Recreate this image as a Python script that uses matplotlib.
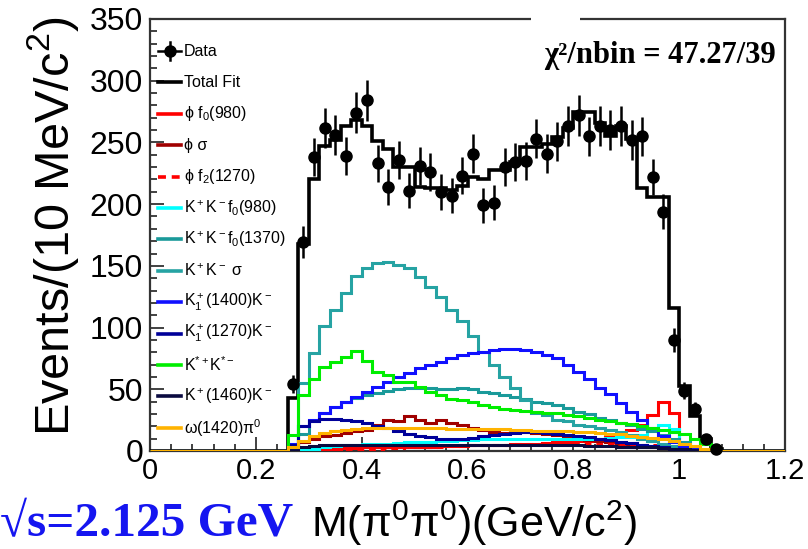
import numpy as np
import matplotlib
matplotlib.use("Agg")
import matplotlib.pyplot as plt
from matplotlib.lines import Line2D
from matplotlib.patches import Rectangle

plt.rcParams['font.family'] = ['Liberation Sans', 'DejaVu Sans']
plt.rcParams['mathtext.fontset'] = 'custom'
plt.rcParams['mathtext.rm'] = 'Liberation Sans'
plt.rcParams['mathtext.it'] = 'Liberation Sans:italic'
plt.rcParams['mathtext.bf'] = 'Liberation Sans:bold'

# 60 bins of 20 MeV over [0, 1.2] GeV; filled bins start at 0.26 GeV
bin_edges = np.linspace(0.0, 1.2, 61)
first_bin = 13

# Data counts, bins centred 0.27 ... 1.07
data_counts = [54, 169, 238, 262, 256, 239, 274, 284, 233, 214, 236, 211, 231, 226, 210,
               207, 223, 241, 199, 201, 230, 234, 235, 253, 241, 251, 263, 272, 255, 263,
               260, 263, 252, 255, 222, 194, 90, 49, 34, 10, 2]

total_fit = [43, 168, 220, 247, 252, 263, 268, 263, 251, 245, 230, 230, 214, 213, 213,
             211.5, 215, 222, 220, 228, 228, 234, 246, 246, 249, 254, 262, 275, 275, 266,
             255, 263, 253, 213, 206, 206, 116, 53, 28, 10, 1.5]

phi_f0_980 = [0, 1, 1.5, 2, 2, 2.5, 2.5, 3, 3, 3, 3, 3.5, 3.5, 3.5, 4, 4, 4, 4.5, 4.5, 5,
              5, 5.5, 5.5, 6, 6.5, 7, 7, 8, 8.5, 9.5, 11, 14, 17, 21, 29, 40, 31, 3, 1, 0, 0]

phi_sigma = [2, 7, 10, 12, 13, 14.5, 16, 17, 21, 25, 24, 28, 25, 22.5, 25, 22.5, 21, 19, 17,
             15.5, 14.5, 15, 15, 14.5, 14, 13, 11.5, 10.5, 9, 8, 7, 6, 5, 4, 3, 2.5, 2, 1.5,
             1, 0.5, 0]

phi_f2_1270 = [0, 0.5, 1, 1, 1.5, 1.5, 2, 2, 2, 2.5, 2.5, 3, 3, 3.5, 3.5, 4, 4, 4.5, 4.5, 5,
               5, 5.5, 5.5, 5.5, 6, 6, 6, 6, 6, 6, 5.5, 5.5, 5, 5, 4.5, 4, 3, 2, 1, 0.5, 0]

kk_f0_980 = [0, 1, 2, 3, 4, 4.5, 5, 5.5, 6, 6, 6.5, 7, 7, 7.5, 8, 8.5, 9, 9, 9.5, 9.5, 10,
             10, 10, 10, 10, 10, 10, 10, 10, 10, 10.5, 11, 11.5, 13, 17, 21, 18, 4, 1, 0, 0]

kk_f0_1370 = [0, 14, 24, 31, 36, 40, 43, 45, 47, 49, 50, 51, 51, 51, 50, 50, 51, 50, 48, 47,
              45, 44, 42, 40, 39, 37, 35, 32, 30, 27, 25, 23, 21, 18, 16, 13, 10, 7, 3.5, 1, 0]

kk_sigma = [4, 55, 79, 101, 114, 128, 142, 148, 152, 153, 151, 148, 141, 133, 125, 114, 105,
            93, 80, 70, 60, 51, 41, 31, 29, 25, 24, 21, 20, 19, 17, 15, 13, 10, 8, 6, 4, 2,
            1, 0.5, 0]

k1_1400_k = [6, 20, 25, 30.5, 36, 40, 44, 48, 52, 56, 60, 63.5, 67, 70, 72.5, 75, 78, 79,
             80.5, 81.5, 82.5, 82.5, 82, 80.5, 78, 75, 70, 64, 58, 51, 46, 39, 32, 25, 18.5,
             12.5, 7.5, 4, 2, 0.8, 0]

k1_1270_k = [5, 20, 24, 26, 26, 25, 24, 22.5, 20.5, 18.5, 16, 14, 12.5, 11, 10, 9.5, 9.5,
             10.5, 12, 13, 14, 14.5, 15, 15, 14.5, 14, 13, 12, 11, 10, 9, 7.5, 6.5, 5, 4, 3,
             2, 1.2, 0.5, 0.2, 0]

kstar_kstar = [13, 45, 58, 68, 72, 76, 81, 73, 64, 61.5, 56, 56, 52, 48, 45.5, 42.5, 41, 40,
               37.5, 36, 34, 33, 32.5, 31.5, 31, 30.5, 29, 28, 27, 25.5, 24.5, 23, 22, 20.5,
               19, 17, 15.5, 14, 10, 6, 0]

k_1460_k = [1, 3, 4, 4.5, 5, 5, 5, 5, 5, 5, 5, 5, 5, 5, 5, 5, 5, 5, 5, 5, 5, 5, 5, 5, 5,
            4.5, 4.5, 4.5, 4, 4, 4, 3.5, 3.5, 3, 3, 2.5, 2, 1.5, 1, 0.5, 0]

omega_1420_pi0 = [3, 8, 12, 14.5, 16, 17, 18, 18.5, 19, 19, 19, 19, 18.5, 18.5, 18.5, 18, 18,
                  18, 18, 17.5, 17.5, 17, 17, 16.5, 16.5, 16, 16, 15.5, 15, 14.5, 14, 13.5,
                  12.5, 11.5, 10.5, 9.5, 8, 6, 4, 2, 0]

x_ticks = [0, 0.2, 0.4, 0.6, 0.8, 1.0, 1.2]
x_tick_labels = ["0", "0.2", "0.4", "0.6", "0.8", "1", "1.2"]
y_ticks = [0, 50, 100, 150, 200, 250, 300, 350]
y_tick_labels = ["0", "50", "100", "150", "200", "250", "300", "350"]

components = [
    (phi_f0_980, "#ff0000", "-", r"ϕ f$_0$(980)"),
    (phi_sigma, "#a00000", "-", r"ϕ σ"),
    (phi_f2_1270, "#ff0000", (0, (2.2, 1.6)), r"ϕ f$_2$(1270)"),
    (kk_f0_980, "#00ffff", "-", r"K$^+$K$^-$f$_0$(980)"),
    (kk_f0_1370, "#1a9a9a", "-", r"K$^+$K$^-$f$_0$(1370)"),
    (kk_sigma, "#26a3a3", "-", r"K$^+$K$^-$ σ"),
    (k1_1400_k, "#1010ff", "-", r"K$_1^+$(1400)K$^-$"),
    (k1_1270_k, "#000099", "-", r"K$_1^+$(1270)K$^-$"),
    (kstar_kstar, "#00ee00", "-", r"K$^{*+}$K$^{*-}$"),
    (k_1460_k, "#0a0a40", "-", r"K$^+$(1460)K$^-$"),
    (omega_1420_pi0, "#ffb300", "-", r"ω(1420)π$^0$"),
]


def full_hist(values):
    arr = np.zeros(len(bin_edges) - 1)
    arr[first_bin:first_bin + len(values)] = values
    return arr


W, H = 808, 549
fig = plt.figure(figsize=(W / 100, H / 100), dpi=100)
AX_L, AX_R, AX_T, AX_B = 150, 785, 19, 451
ax = fig.add_axes([AX_L / W, 1 - AX_B / H, (AX_R - AX_L) / W, (AX_B - AX_T) / H])


def px_to_ax(px, py):
    return (px - AX_L) / (AX_R - AX_L), (AX_B - py) / (AX_B - AX_T)


ax.stairs(full_hist(total_fit), bin_edges, color="black", lw=2.6, zorder=3)
for vals, col, ls, _ in components:
    ax.stairs(full_hist(vals), bin_edges, color=col, lw=2.2, linestyle=ls, zorder=3)

centers = 0.5 * (bin_edges[:-1] + bin_edges[1:])
x_data = centers[first_bin:first_bin + len(data_counts)]
y_data = np.array(data_counts, dtype=float)
ax.errorbar(x_data, y_data, yerr=np.sqrt(y_data), fmt="o", color="black", ms=8,
            elinewidth=1.8, capsize=0, zorder=5, clip_on=False)

ax.set_xlim(0, 1.2)
ax.set_ylim(0, 350)
ax.set_xticks(x_ticks)
ax.set_xticklabels(x_tick_labels)
ax.set_yticks(y_ticks)
ax.set_yticklabels(y_tick_labels)
ax.set_xticks(np.arange(0, 1.2001, 0.04), minor=True)
ax.set_yticks(np.arange(0, 350.1, 10), minor=True)
ax.tick_params(axis="both", which="both", direction="in", top=False, right=False,
               width=1.3, color="#333333")
ax.tick_params(axis="both", which="major", length=10)
ax.tick_params(axis="both", which="minor", length=5)
ax.tick_params(axis="x", which="major", labelsize=21, pad=4)
ax.tick_params(axis="y", which="major", labelsize=23, pad=5)
for sp in ax.spines.values():
    sp.set_linewidth(1.6)
    sp.set_color("#333333")

ax.set_ylabel("Events/(10 MeV/c$^2$)", fontsize=35, va="center")
ax.yaxis.set_label_coords(-0.152, 0.52)
ax.set_xlabel("M(π$^0$π$^0$)(GeV/c$^2$)", fontsize=31, va="center")
ax.xaxis.set_label_coords(0.51, -0.167)

fig.text(293 / W, 1 - 524 / H, "√s=2.125 GeV", ha="right", va="center", color="#1515f0",
         fontsize=35.5, fontweight="bold", family=["Liberation Serif", "DejaVu Serif"])

ax.text(0.985, px_to_ax(0, 55)[1], "χ²/nbin = 47.27/39", transform=ax.transAxes,
        ha="right", va="center", fontsize=22, fontweight="bold",
        family=["Liberation Serif", "DejaVu Serif"])

# legend drawn row by row
legend_rows = [("Data", None, None), ("Total Fit", "black", "-")] + \
    [(lab, col, ls) for _, col, ls, lab in components]
row_y0, row_dy = 51, 31.4
hx0, hx1, tx = 158, 181, 184
for i, (lab, col, ls) in enumerate(legend_rows):
    py = row_y0 + i * row_dy
    (ax0, ay), (ax1, _) = px_to_ax(hx0, py), px_to_ax(hx1, py)
    if col is None:
        xm = 0.5 * (ax0 + ax1)
        ax.add_line(Line2D([ax0, ax1], [ay, ay], color="black", lw=1.8,
                           transform=ax.transAxes, clip_on=False))
        dy = 9 / (AX_B - AX_T)
        ax.add_line(Line2D([xm, xm], [ay - dy, ay + dy], color="black", lw=1.8,
                           transform=ax.transAxes, clip_on=False))
        ax.add_line(Line2D([xm], [ay], marker="o", ms=8, color="black",
                           transform=ax.transAxes, clip_on=False))
    else:
        ax.add_line(Line2D([ax0, ax1], [ay, ay], color=col, lw=2.6, linestyle=ls,
                           transform=ax.transAxes, clip_on=False))
    ax.text(px_to_ax(tx, 0)[0], ay, lab, transform=ax.transAxes, ha="left",
            va="center", fontsize=11.5)

# break in the top frame
fig.add_artist(Rectangle((531 / W, 1 - 23 / H), 49 / W, 8 / H, transform=fig.transFigure,
                         facecolor="white", edgecolor="none", zorder=10))

fig.savefig("out.png", dpi=100)
